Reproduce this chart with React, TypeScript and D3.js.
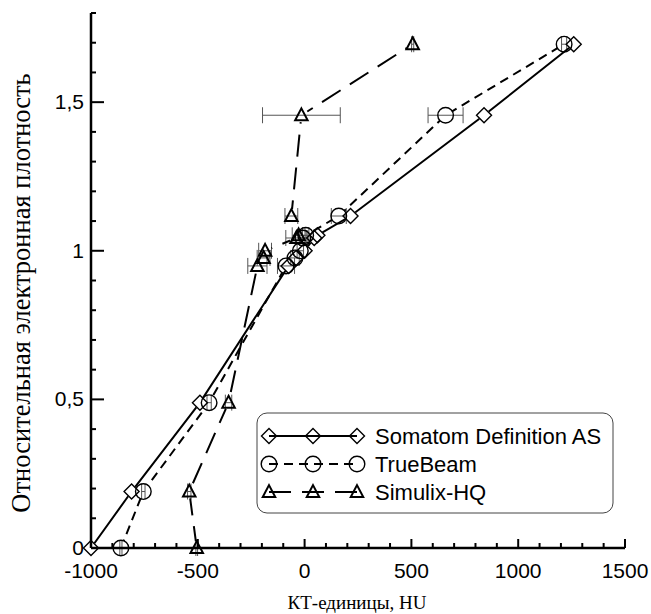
import * as d3 from "d3";

// relative electron density of the phantom inserts
const density = [0, 0.19, 0.489, 0.949, 0.976, 1.0, 1.043, 1.052, 1.117, 1.456, 1.695];

const somatomHU = [-1000, -810, -490, -75, -40, 0, 45, 60, 215, 840, 1260];
const trueBeamHU = [-860, -755, -447, -87, -45, -20, -8, 5, 160, 660, 1215];
const trueBeamErr = [5, 8, 10, 40, 20, 15, 15, 15, 35, 82, 12];
const simulixHU = [-505, -540, -356, -221, -192, -185, -38, -28, -62, -15, 506];
const simulixErr = [4, 8, 15, 45, 30, 30, 50, 30, 30, 182, 5];

const xTicks = [-1000, -500, 0, 500, 1000, 1500];
const yTicks = [0, 0.5, 1, 1.5];

const W = 651;
const H = 614;
const sans = "'Liberation Sans', Arial, sans-serif";
const serif = "'Liberation Serif', 'Times New Roman', serif";

const x = d3.scaleLinear().domain([-1000, 1500]).range([91, 625]);
const y = d3.scaleLinear().domain([0, 1.8]).range([548, 13]);

const diamond = (cx: number, cy: number, r = 7.5) =>
  `M${cx},${cy - r}L${cx + r},${cy}L${cx},${cy + r}L${cx - r},${cy}Z`;
const triangle = (cx: number, cy: number, s = 12.5) =>
  `M${cx},${cy - s * 0.55}L${cx + s / 2},${cy + s * 0.4}L${cx - s / 2},${cy + s * 0.4}Z`;

type Kind = "diamond" | "circle" | "triangle";

const Marker = ({ kind, cx, cy }: { kind: Kind; cx: number; cy: number }) => {
  if (kind === "circle")
    return <circle cx={cx} cy={cy} r={7.8} fill="none" stroke="#000" strokeWidth={1.4} />;
  const d = kind === "diamond" ? diamond(cx, cy) : triangle(cx, cy);
  return <path d={d} fill="none" stroke="#000" strokeWidth={kind === "triangle" ? 2 : 1.4} />;
};

const series = [
  { id: "s", name: "Somatom Definition AS", xs: somatomHU, err: null as number[] | null, kind: "diamond" as Kind, dash: "", gap: 6 },
  { id: "t", name: "TrueBeam", xs: trueBeamHU, err: trueBeamErr, kind: "circle" as Kind, dash: "9,6", gap: 7.8 },
  { id: "x", name: "Simulix-HQ", xs: simulixHU, err: simulixErr, kind: "triangle" as Kind, dash: "22,11", gap: 7 },
];

export default function App() {
  const line = d3
    .line<[number, number]>()
    .x((d) => x(d[0]))
    .y((d) => y(d[1]));

  const xMinor = d3.range(-1000, 1501, 100);
  const yMinor = d3.range(0, 18.01, 1).map((v) => v / 10);

  return (
    <svg width={W} height={H} style={{ position: "absolute", left: 0, top: 0, background: "#fff" }}>
      <defs>
        {series.map((s) => (
          <mask id={"m" + s.id} key={"m" + s.id} maskUnits="userSpaceOnUse" x={0} y={0} width={W} height={H}>
            <rect x={0} y={0} width={W} height={H} fill="#fff" />
            {s.xs.map((v, i) => (
              <circle key={i} cx={x(v)} cy={y(density[i])} r={s.gap} fill="#000" />
            ))}
          </mask>
        ))}
      </defs>
      {/* error bars */}
      {series.map((s) =>
        s.err
          ? s.xs.map((v, i) => {
              const cy = y(density[i]);
              const x0 = x(v - s.err![i]);
              const x1 = x(v + s.err![i]);
              return (
                <g key={s.name + "e" + i} stroke="#555" strokeWidth={1}>
                  <line x1={x0} x2={x1} y1={cy} y2={cy} />
                  <line x1={x0} x2={x0} y1={cy - 8} y2={cy + 8} />
                  <line x1={x1} x2={x1} y1={cy - 8} y2={cy + 8} />
                </g>
              );
            })
          : null
      )}
      {/* lines */}
      {series.map((s) => (
        <path
          key={s.name}
          d={line(s.xs.map((v, i) => [v, density[i]]) as [number, number][]) || ""}
          fill="none"
          stroke="#000"
          strokeWidth={2}
          strokeDasharray={s.dash || undefined}
          mask={`url(#m${s.id})`}
        />
      ))}
      {/* markers */}
      {series.map((s) =>
        s.xs.map((v, i) => <Marker key={s.name + i} kind={s.kind} cx={x(v)} cy={y(density[i])} />)
      )}

      {/* axes */}
      <g stroke="#000">
        <line x1={x(-1000)} x2={x(1500)} y1={y(0)} y2={y(0)} strokeWidth={2.5} />
        <line x1={x(-1000)} x2={x(-1000)} y1={y(0)} y2={y(1.8)} strokeWidth={2.5} />
        {xMinor.map((t) => (
          <line key={"xt" + t} x1={x(t)} x2={x(t)} y1={y(0)} y2={y(0) - (t % 500 === 0 ? 9 : 5)} strokeWidth={2} />
        ))}
        {yMinor.map((t) => (
          <line
            key={"yt" + t}
            x1={x(-1000)}
            x2={x(-1000) + (Math.round(t * 10) % 5 === 0 ? 13 : 5)}
            y1={y(t)}
            y2={y(t)}
            strokeWidth={2}
          />
        ))}
      </g>
      {xTicks.map((t) => (
        <text key={"xl" + t} x={x(t)} y={578} textAnchor="middle" fontFamily={sans} fontSize={21}>
          {t}
        </text>
      ))}
      {yTicks.map((t) => (
        <text key={"yl" + t} x={84} y={y(t) + 7} textAnchor="end" fontFamily={sans} fontSize={21}>
          {String(t).replace(".", ",")}
        </text>
      ))}
      <text x={357} y={609} textAnchor="middle" fontFamily={serif} fontSize={19}>
        КТ-единицы, HU
      </text>
      <text
        transform={`translate(30,293) rotate(-90)`}
        textAnchor="middle"
        fontFamily={serif}
        fontSize={26.5}
      >
        Относительная электронная плотность
      </text>

      {/* legend */}
      <rect x={257} y={413} width={356} height={100} rx={10} fill="#fff" stroke="#444" strokeWidth={1} />
      {series.map((s, i) => {
        const ly = 436 + i * 28;
        const lx = [269, 313, 357];
        return (
          <g key={"lg" + s.name}>
            <line
              x1={lx[0]}
              x2={lx[2]}
              y1={ly}
              y2={ly}
              stroke="#000"
              strokeWidth={2}
              strokeDasharray={s.dash || undefined}
            />
            {lx.map((px) => (
              <Marker key={px} kind={s.kind} cx={px} cy={ly} />
            ))}
            <text x={375} y={ly + 8} fontFamily={sans} fontSize={22}>
              {s.name}
            </text>
          </g>
        );
      })}
    </svg>
  );
}
